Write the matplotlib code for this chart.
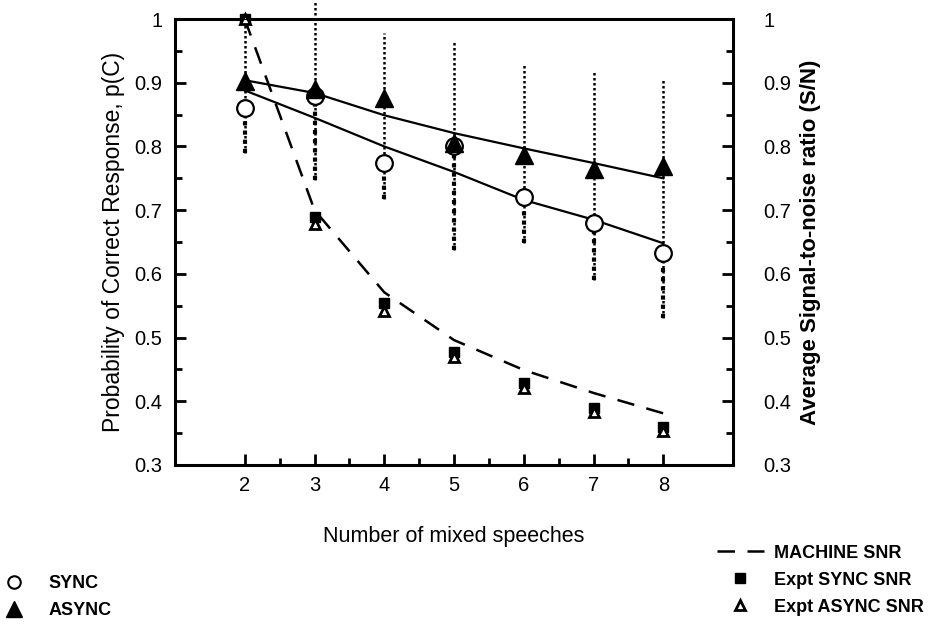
import matplotlib.pyplot as plt
from matplotlib.lines import Line2D

plt.rcParams['font.family'] = ['Liberation Sans', 'DejaVu Sans']

# data
n_speech = [2, 3, 4, 5, 6, 7, 8]
sync_pc = [0.860, 0.880, 0.774, 0.800, 0.720, 0.680, 0.633]
async_pc = [0.902, 0.890, 0.876, 0.805, 0.787, 0.765, 0.770]
sync_fit = [0.888, 0.845, 0.800, 0.760, 0.716, 0.685, 0.648]
async_fit = [0.904, 0.884, 0.849, 0.821, 0.797, 0.774, 0.750]
err_hi = [1.000, 1.030, 0.978, 0.964, 0.928, 0.920, 0.904]
err_lo = [0.790, 0.747, 0.717, 0.637, 0.648, 0.590, 0.530]
machine_snr = [1.000, 0.700, 0.571, 0.496, 0.449, 0.413, 0.381]
expt_sync_snr = [1.000, 0.690, 0.554, 0.477, 0.428, 0.389, 0.360]
expt_async_snr = [1.000, 0.678, 0.542, 0.470, 0.420, 0.383, 0.354]

fig = plt.figure(figsize=(9.41, 6.36), dpi=100)
ax = fig.add_axes([0.186, 0.269, 0.593, 0.701])

# error bars (dotted)
for x, lo, hi, s in zip(n_speech, err_lo, err_hi, sync_pc):
    ax.plot([x, x], [lo, hi], color='black', linestyle=(0, (1, 1)), lw=1.8, clip_on=False, zorder=1)
    ax.plot([x, x], [lo, s], color='black', linestyle=(0, (1, 1.2)), lw=3, clip_on=False, zorder=1)

ax.plot(n_speech, sync_fit, color='black', lw=1.6, zorder=2)
ax.plot(n_speech, async_fit, color='black', lw=1.6, zorder=2)
ax.plot(n_speech, machine_snr, color='black', lw=1.8, dashes=(7, 5), zorder=2)

ax.plot(n_speech, expt_sync_snr, 's', color='black', ms=7, zorder=3, clip_on=False)
ax.plot(n_speech, expt_async_snr, '^', mfc='white', mec='black', mew=2, ms=7, zorder=4, clip_on=False)
ax.plot(n_speech, sync_pc, 'o', mfc='white', mec='black', mew=1.6, ms=12, zorder=5)
ax.plot(n_speech, async_pc, '^', color='black', ms=13, zorder=6)

ax.set_xlim(1, 9)
ax.set_ylim(0.3, 1.0)
ax.set_xticks(n_speech)
ax.set_xticks([2.5, 3.5, 4.5, 5.5, 6.5, 7.5], minor=True)
yt = [0.3, 0.4, 0.5, 0.6, 0.7, 0.8, 0.9, 1.0]
ylabels = ['0.3', '0.4', '0.5', '0.6', '0.7', '0.8', '0.9', '1']
ax.set_yticks(yt)
ax.set_yticklabels(ylabels)
ax.set_yticks([0.35, 0.45, 0.55, 0.65, 0.75, 0.85, 0.95], minor=True)
ax.tick_params(which='both', direction='in', width=2, labelsize=14.5)
ax.tick_params(which='major', length=8, pad=8)
ax.tick_params(which='minor', length=5)
ax.tick_params(axis='y', pad=9)
for sp in ax.spines.values():
    sp.set_linewidth(2.2)

ax.set_xlabel('Number of mixed speeches', fontsize=15.5, labelpad=22)
ax.set_ylabel('Probability of Correct Response, p(C)', fontsize=16.5, labelpad=7)

ax2 = ax.twinx()
ax2.set_ylim(0.3, 1.0)
ax2.set_yticks(yt)
ax2.set_yticklabels(ylabels)
ax2.set_yticks([0.35, 0.45, 0.55, 0.65, 0.75, 0.85, 0.95], minor=True)
ax2.tick_params(which='both', direction='in', width=2, labelsize=14.5, pad=22)
ax2.tick_params(which='major', length=8)
ax2.tick_params(which='minor', length=5)
ax2.set_ylabel('Average Signal-to-noise ratio (S/N)', fontsize=16, fontweight='bold', labelpad=6)

h_left = [Line2D([], [], ls='none', marker='o', mfc='white', mec='black', mew=1.5, ms=9),
          Line2D([], [], ls='none', marker='^', color='black', ms=11)]
fig.legend(h_left, ['SYNC', 'ASYNC'], loc='upper left', bbox_to_anchor=(-0.012, 0.107),
           frameon=False, prop={'weight': 'bold', 'size': 13}, handletextpad=0.9,
           labelspacing=0.55, borderaxespad=0)

h_right = [Line2D([], [], color='black', lw=1.8, dashes=(7, 5)),
           Line2D([], [], ls='none', marker='s', color='black', ms=7),
           Line2D([], [], ls='none', marker='^', mfc='white', mec='black', mew=2, ms=7)]
fig.legend(h_right, ['MACHINE SNR', 'Expt SYNC SNR', 'Expt ASYNC SNR'], loc='upper right',
           bbox_to_anchor=(0.99, 0.155), frameon=False, prop={'weight': 'bold', 'size': 13},
           handlelength=2.6, handletextpad=0.6, labelspacing=0.55, borderaxespad=0)

fig.savefig('out.png', dpi=100)
